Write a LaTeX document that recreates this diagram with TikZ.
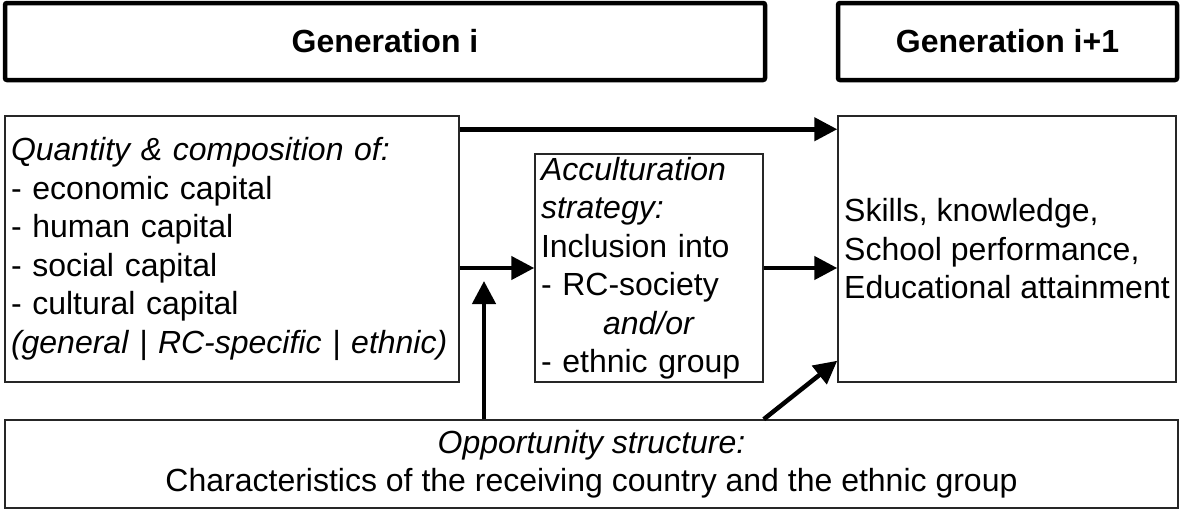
\documentclass[tikz,border=0pt]{standalone}
\usepackage{fontspec}
\setmainfont{Liberation Sans}
\usepackage{tikz}
\usetikzlibrary{arrows.meta}

\tikzset{
    genbox/.style={draw, line width=4.5pt, rounded corners=2pt, minimum height=77pt,
        font=\bfseries\fontsize{32}{38.5}\selectfont},
    infobox/.style={draw=black!85, line width=1.5pt, inner xsep=6pt, inner ysep=2pt,
        font=\fontsize{32}{38.5}\selectfont},
    flow/.style={line width=4.5pt, -{Triangle[length=23pt,width=23pt]}}
}

\begin{document}
\begin{tikzpicture}[x=1pt, y=-1pt]
    \useasboundingbox (0,0) rectangle (1181,512);

    % generations
    \node[genbox, minimum width=760pt] (geni) at (385,41.5) {Generation i};
    \node[genbox, minimum width=339pt] (genii) at (1007.5,41.5) {Generation i+1};

    % boxes
    \node[infobox, text width=442pt, minimum height=266pt, align=left] (quantity) at (232,249)
        {\textit{Quantity \& composition of:}\\
         - economic capital\\
         - human capital\\
         - social capital\\
         - cultural capital\\
         \textit{(general | RC-specific | ethnic)}};
    \node[infobox, text width=216pt, minimum height=228pt, align=left] (accult) at (649,268)
        {\textit{Acculturation}\\
         \textit{strategy:}\\
         Inclusion into\\
         - RC-society\\
         \makebox[216pt]{\textit{and/or}}\\
         - ethnic group};
    \node[infobox, minimum width=338pt, minimum height=266pt, align=left] (outcome) at (1007,249)
        {Skills, knowledge,\\
         School performance,\\
         Educational attainment};
    \node[infobox, minimum width=1173pt, minimum height=88pt, align=center] (opportunity) at (591.5,464)
        {\textit{Opportunity structure:}\\
         Characteristics of the receiving country and the ethnic group};

    % arrows
    \coordinate (meet) at (484,281);
    \draw[flow] ([yshift=-14pt]quantity.north east) -- ([yshift=-14pt]outcome.north west);
    \draw[flow] (quantity.east |- accult.west) -- (accult.west);
    \draw[flow] (accult.east) -- (accult.east -| outcome.west);
    \draw[flow] (opportunity.north -| meet) -- (meet);
    \draw[flow] (opportunity.north -| accult.east) -- ([yshift=22pt]outcome.south west);
\end{tikzpicture}
\end{document}
